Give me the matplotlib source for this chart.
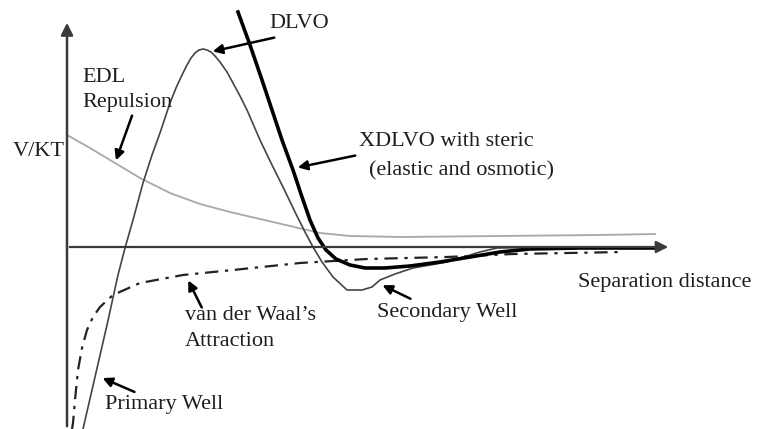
import matplotlib.pyplot as plt

# schematic energy curves, units are arbitrary
edl_x = [0, 23, 48, 73, 103, 133, 163, 193, 223, 253, 283, 333, 433, 533, 588]
edl_y = [112, 99, 84, 69, 54, 43, 35, 28, 21, 14, 11, 10, 11, 12, 13]

dlvo_x = [16, 28, 40, 51, 58, 66, 76, 85, 93, 103, 109, 115, 120, 124, 128, 132, 136, 140,
          144, 148, 153, 160, 166, 173, 180, 193, 205, 216, 228, 238, 246, 255, 266, 280,
          295, 305, 313, 328, 346, 380, 413, 430, 493, 573]
dlvo_y = [-182, -130, -78, -28, -1, 27, 64, 92, 114, 144, 159, 172, 182, 189, 194, 197, 198,
          197, 195, 191, 185, 175, 164, 151, 137, 107, 82, 60, 35, 15, 0, -15, -30, -43,
          -43, -40, -33, -27, -21, -15, -5, -1, 0, 0]

xdlvo_x = [171, 183, 195, 205, 215, 226, 235, 243, 251, 259, 269, 283, 298, 318, 343, 373,
           403, 433, 463, 513, 593]
xdlvo_y = [235, 202, 167, 137, 107, 77, 50, 27, 9, -3, -12, -18, -21, -21, -19, -15,
           -10, -5, -2, -1, -1]

vdw_x = [5, 6, 8, 11, 15, 20, 26, 33, 46, 73, 116, 166, 233, 300, 380, 446, 556]
vdw_y = [-182, -176, -153, -123, -101, -83, -70, -60, -48, -36, -28, -23, -16, -12, -10, -7, -5]

plt.rcParams['font.family'] = ['Liberation Serif', 'DejaVu Serif']

fig = plt.figure(figsize=(7.58, 4.29), dpi=100)
ax = fig.add_axes([0, 0, 1, 1])
ax.set_xlim(-67, 691)
ax.set_ylim(-182, 247)
ax.axis('off')

axcol = '#3a3a3a'
# axes with arrow heads
ax.annotate('', xy=(0, 227), xytext=(0, -182),
            arrowprops=dict(arrowstyle='-|>', color=axcol, lw=1.8, mutation_scale=18))
ax.annotate('', xy=(604, 0), xytext=(0, 0),
            arrowprops=dict(arrowstyle='-|>', color=axcol, lw=1.6, mutation_scale=18))

ax.plot(edl_x, edl_y, color='#a8a8a8', lw=1.3)
ax.plot(vdw_x, vdw_y, color='#222222', lw=1.6, linestyle=(0, (6, 3, 1.5, 3)))
ax.plot(dlvo_x, dlvo_y, color='#444444', lw=1.2)
ax.plot(xdlvo_x, xdlvo_y, color='black', lw=2.6)

fs = 16
tc = '#1e1e1e'
ap = dict(arrowstyle='-|>', color='black', lw=1.8, mutation_scale=14)

ax.text(-54, 95, 'V/KT', fontsize=fs, va='center', ha='left', color=tc)
ax.text(511, -36, 'Separation distance', fontsize=fs, va='center', ha='left', color=tc)

ax.text(202, 223, 'DLVO', fontsize=fs, va='center', ha='left', color=tc)
ax.annotate('', xy=(143, 195), xytext=(210, 210), arrowprops=ap)

ax.text(15, 157, 'EDL\nRepulsion', fontsize=fs, va='center', ha='left',
        linespacing=1.45, color=tc)
ax.annotate('', xy=(48, 84), xytext=(66, 134), arrowprops=ap)

ax.text(292, 106, 'XDLVO with steric', fontsize=fs, va='center', ha='left', color=tc)
ax.text(302, 76, '(elastic and osmotic)', fontsize=fs, va='center', ha='left', color=tc)
ax.annotate('', xy=(228, 79), xytext=(291, 92), arrowprops=ap)

ax.text(310, -65, 'Secondary Well', fontsize=fs, va='center', ha='left', color=tc)
ax.annotate('', xy=(313, -37), xytext=(346, -53), arrowprops=ap)

ax.text(118, -82, 'van der Waal\u2019s\nAttraction', fontsize=fs, va='center', ha='left',
        linespacing=1.5, color=tc)
ax.annotate('', xy=(120, -31), xytext=(136, -63), arrowprops=ap)

ax.text(38, -158, 'Primary Well', fontsize=fs, va='center', ha='left', color=tc)
ax.annotate('', xy=(33, -130), xytext=(70, -146), arrowprops=ap)

fig.savefig('out.png', dpi=100)
